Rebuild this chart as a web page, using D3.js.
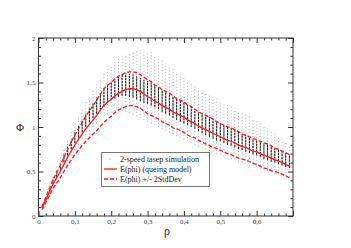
<!DOCTYPE html>
<html>
<head>
<meta charset="utf-8">
<script src="https://cdn.jsdelivr.net/npm/d3@7"></script>
<style>
  body { margin: 0; background: #fff; }
  svg { display: block; font-family: "Liberation Serif", "Times New Roman", serif; }
</style>
</head>
<body>
<div id="chart"></div>
<script>
// density grid (x values of every simulation column and model point)
const rho = [0.01, 0.02, 0.03, 0.04, 0.05, 0.06, 0.07, 0.08, 0.09, 0.10,
    0.11, 0.12, 0.13, 0.14, 0.15, 0.16, 0.17, 0.18, 0.19, 0.20,
    0.21, 0.22, 0.23, 0.24, 0.25, 0.26, 0.27, 0.28, 0.29, 0.30,
    0.31, 0.32, 0.33, 0.34, 0.35, 0.36, 0.37, 0.38, 0.39, 0.40,
    0.41, 0.42, 0.43, 0.44, 0.45, 0.46, 0.47, 0.48, 0.49, 0.50,
    0.51, 0.52, 0.53, 0.54, 0.55, 0.56, 0.57, 0.58, 0.59, 0.60,
    0.61, 0.62, 0.63, 0.64, 0.65, 0.66, 0.67, 0.68, 0.69];

// E(phi), queing model
const meanPhi = [0.09, 0.18, 0.27, 0.36, 0.43, 0.50, 0.58, 0.66, 0.73, 0.80,
    0.86, 0.92, 0.98, 1.03, 1.08, 1.13, 1.19, 1.24, 1.28, 1.31,
    1.35, 1.38, 1.40, 1.42, 1.43, 1.43, 1.42, 1.40, 1.37, 1.34,
    1.32, 1.29, 1.27, 1.24, 1.22, 1.20, 1.17, 1.15, 1.13, 1.11,
    1.08, 1.06, 1.04, 1.01, 0.99, 0.97, 0.95, 0.93, 0.91, 0.89,
    0.87, 0.85, 0.84, 0.82, 0.80, 0.78, 0.77, 0.75, 0.73, 0.72,
    0.70, 0.68, 0.67, 0.65, 0.63, 0.62, 0.60, 0.58, 0.56];

// E(phi) + 2 StdDev
const upperPhi = [0.11, 0.21, 0.31, 0.41, 0.49, 0.57, 0.66, 0.75, 0.83, 0.91,
    0.98, 1.05, 1.12, 1.18, 1.24, 1.30, 1.37, 1.43, 1.47, 1.50,
    1.54, 1.57, 1.59, 1.61, 1.62, 1.62, 1.61, 1.59, 1.56, 1.53,
    1.51, 1.47, 1.45, 1.42, 1.40, 1.38, 1.35, 1.32, 1.30, 1.28,
    1.25, 1.23, 1.20, 1.17, 1.15, 1.13, 1.11, 1.09, 1.06, 1.04,
    1.02, 1.00, 0.99, 0.97, 0.95, 0.92, 0.91, 0.89, 0.87, 0.86,
    0.84, 0.82, 0.81, 0.79, 0.76, 0.75, 0.73, 0.71, 0.69];

// E(phi) - 2 StdDev
const lowerPhi = [0.07, 0.15, 0.23, 0.31, 0.37, 0.43, 0.50, 0.57, 0.63, 0.69,
    0.74, 0.79, 0.84, 0.88, 0.92, 0.96, 1.01, 1.05, 1.09, 1.12,
    1.16, 1.19, 1.21, 1.23, 1.24, 1.24, 1.23, 1.21, 1.18, 1.15,
    1.13, 1.11, 1.09, 1.06, 1.04, 1.02, 0.99, 0.98, 0.96, 0.94,
    0.91, 0.89, 0.88, 0.85, 0.83, 0.81, 0.79, 0.77, 0.76, 0.74,
    0.72, 0.70, 0.69, 0.67, 0.65, 0.64, 0.63, 0.61, 0.59, 0.58,
    0.56, 0.54, 0.53, 0.51, 0.50, 0.49, 0.47, 0.45, 0.43];

// simulation runs per column: lowest, dense band low, dense band high, highest
const simMin = [0.08, 0.16, 0.24, 0.32, 0.40, 0.47, 0.55, 0.62, 0.68, 0.74,
    0.80, 0.86, 0.91, 0.96, 1.00, 1.04, 1.08, 1.12, 1.14, 1.16,
    1.18, 1.18, 1.18, 1.17, 1.16, 1.14, 1.12, 1.10, 1.08, 1.06,
    1.04, 1.02, 1.00, 0.98, 0.96, 0.94, 0.92, 0.90, 0.88, 0.86,
    0.84, 0.82, 0.80, 0.78, 0.76, 0.75, 0.73, 0.72, 0.70, 0.69,
    0.67, 0.66, 0.64, 0.63, 0.61, 0.60, 0.59, 0.57, 0.56, 0.55,
    0.53, 0.52, 0.51, 0.50, 0.48, 0.47, 0.46, 0.45, 0.44];
const simCoreLo = [0.09, 0.18, 0.27, 0.36, 0.44, 0.52, 0.60, 0.68, 0.75, 0.82,
    0.88, 0.94, 1.00, 1.05, 1.10, 1.15, 1.19, 1.23, 1.27, 1.30,
    1.32, 1.34, 1.35, 1.35, 1.34, 1.33, 1.31, 1.29, 1.27, 1.26,
    1.24, 1.22, 1.20, 1.17, 1.15, 1.13, 1.10, 1.08, 1.06, 1.04,
    1.02, 1.00, 0.98, 0.95, 0.93, 0.91, 0.89, 0.87, 0.85, 0.84,
    0.82, 0.80, 0.79, 0.77, 0.75, 0.74, 0.72, 0.71, 0.69, 0.68,
    0.66, 0.64, 0.63, 0.61, 0.60, 0.58, 0.57, 0.55, 0.54];
const simCoreHi = [0.11, 0.21, 0.31, 0.41, 0.51, 0.60, 0.69, 0.78, 0.86, 0.94,
    1.01, 1.08, 1.15, 1.21, 1.27, 1.33, 1.38, 1.43, 1.47, 1.51,
    1.54, 1.57, 1.59, 1.60, 1.60, 1.59, 1.57, 1.55, 1.53, 1.52,
    1.50, 1.47, 1.45, 1.42, 1.40, 1.38, 1.35, 1.32, 1.30, 1.28,
    1.25, 1.23, 1.20, 1.17, 1.15, 1.13, 1.11, 1.09, 1.06, 1.04,
    1.02, 1.00, 0.99, 0.97, 0.95, 0.92, 0.91, 0.89, 0.87, 0.86,
    0.84, 0.82, 0.81, 0.79, 0.76, 0.75, 0.73, 0.71, 0.69];
const simMax = [0.12, 0.23, 0.34, 0.45, 0.56, 0.66, 0.76, 0.86, 0.95, 1.04,
    1.12, 1.20, 1.28, 1.35, 1.42, 1.48, 1.55, 1.60, 1.65, 1.70,
    1.74, 1.78, 1.80, 1.82, 1.84, 1.85, 1.86, 1.86, 1.85, 1.85,
    1.84, 1.80, 1.78, 1.75, 1.72, 1.68, 1.65, 1.62, 1.58, 1.55,
    1.52, 1.49, 1.46, 1.43, 1.40, 1.38, 1.36, 1.34, 1.32, 1.30,
    1.27, 1.25, 1.23, 1.21, 1.18, 1.16, 1.14, 1.12, 1.10, 1.07,
    1.04, 1.01, 0.98, 0.95, 0.92, 0.89, 0.86, 0.83, 0.80];

const xMajor = [0, 0.1, 0.2, 0.3, 0.4, 0.5, 0.6, 0.7];
const xMinor = [0.02, 0.04, 0.06, 0.08, 0.12, 0.14, 0.16, 0.18, 0.22, 0.24, 0.26, 0.28,
    0.32, 0.34, 0.36, 0.38, 0.42, 0.44, 0.46, 0.48, 0.52, 0.54, 0.56, 0.58,
    0.62, 0.64, 0.66, 0.68];
const yMajor = [0, 0.5, 1, 1.5, 2];
const yMinor = [0.1, 0.2, 0.3, 0.4, 0.6, 0.7, 0.8, 0.9, 1.1, 1.2, 1.3, 1.4,
    1.6, 1.7, 1.8, 1.9];
const xTickLabels = ["0", "0,1", "0,2", "0,3", "0,4", "0,5", "0,6", ""];
const yTickLabels = ["0", "0,5", "1", "1,5", "2"];

const legendItems = ["2-speed tasep simulation", "E(phi) (queing model)", "E(phi) +/- 2StdDev"];

var W = 351, H = 248;
var plot = {left: 38.5, right: 293, top: 38, bottom: 216};

var x = d3.scaleLinear().domain([0, 0.7]).range([plot.left, plot.right]);
var y = d3.scaleLinear().domain([0, 2]).range([plot.bottom, plot.top]);

var svg = d3.select("#chart").append("svg")
    .attr("width", W)
    .attr("height", H);

var cols = rho.map((r, i) => ({r: r, lo: simMin[i], cLo: simCoreLo[i], cHi: simCoreHi[i], hi: simMax[i]}));

// simulation scatter: sparse grey spread, then dense dark band
svg.append("g").selectAll("line")
    .data(cols).enter().append("line")
        .attr("x1", d => x(d.r)).attr("x2", d => x(d.r))
        .attr("y1", d => y(d.lo)).attr("y2", d => y(d.hi))
        .attr("stroke", "#a8a8a8")
        .attr("stroke-width", 0.9)
        .attr("stroke-dasharray", "1,2.2");

svg.append("g").selectAll("line")
    .data(cols).enter().append("line")
        .attr("x1", d => x(d.r)).attr("x2", d => x(d.r))
        .attr("y1", d => y(d.cLo)).attr("y2", d => y(d.cHi))
        .attr("stroke", "#111")
        .attr("stroke-width", 1)
        .attr("stroke-dasharray", "2.5,0.6");

// model curves
function curveLine(vals) {
    return d3.line()
        .x((d, i) => x(rho[i]))
        .y(d => y(d))(vals);
}

svg.append("path")
    .attr("d", curveLine(meanPhi))
    .attr("fill", "none")
    .attr("stroke", "#ff1a1a")
    .attr("stroke-width", 1.3);

[upperPhi, lowerPhi].forEach(vals => {
    svg.append("path")
        .attr("d", curveLine(vals))
        .attr("fill", "none")
        .attr("stroke", "#ff1a1a")
        .attr("stroke-width", 1.3)
        .attr("stroke-dasharray", "4,2");
});

// frame
svg.append("rect")
    .attr("x", plot.left).attr("y", plot.top)
    .attr("width", plot.right - plot.left)
    .attr("height", plot.bottom - plot.top)
    .attr("fill", "none")
    .attr("stroke", "#333")
    .attr("stroke-width", 1);

// axes, ticks pointing inwards on all four sides
function styleAxis(g) {
    g.select(".domain").remove();
    g.selectAll("line").attr("stroke", "#333");
    g.selectAll("text").attr("fill", "#444").attr("font-size", 7)
        .attr("font-family", "Liberation Serif, serif");
}

svg.append("g")
    .attr("transform", `translate(0, ${plot.bottom})`)
    .call(d3.axisBottom(x).tickValues(xMajor).tickSize(-5).tickPadding(3)
        .tickFormat((d, i) => xTickLabels[i]))
    .call(styleAxis);
svg.append("g")
    .attr("transform", `translate(0, ${plot.bottom})`)
    .call(d3.axisBottom(x).tickValues(xMinor).tickSize(-2.5).tickFormat(""))
    .call(styleAxis);
svg.append("g")
    .attr("transform", `translate(0, ${plot.top})`)
    .call(d3.axisTop(x).tickValues(xMajor).tickSize(-5).tickFormat(""))
    .call(styleAxis);
svg.append("g")
    .attr("transform", `translate(0, ${plot.top})`)
    .call(d3.axisTop(x).tickValues(xMinor).tickSize(-2.5).tickFormat(""))
    .call(styleAxis);

svg.append("g")
    .attr("transform", `translate(${plot.left}, 0)`)
    .call(d3.axisLeft(y).tickValues(yMajor).tickSize(-5).tickPadding(3)
        .tickFormat((d, i) => yTickLabels[i]))
    .call(styleAxis);
svg.append("g")
    .attr("transform", `translate(${plot.left}, 0)`)
    .call(d3.axisLeft(y).tickValues(yMinor).tickSize(-2.5).tickFormat(""))
    .call(styleAxis);
svg.append("g")
    .attr("transform", `translate(${plot.right}, 0)`)
    .call(d3.axisRight(y).tickValues(yMajor).tickSize(-5).tickFormat(""))
    .call(styleAxis);
svg.append("g")
    .attr("transform", `translate(${plot.right}, 0)`)
    .call(d3.axisRight(y).tickValues(yMinor).tickSize(-2.5).tickFormat(""))
    .call(styleAxis);

// axis titles
svg.append("text")
    .attr("x", 167)
    .attr("y", 235)
    .attr("text-anchor", "middle")
    .attr("font-size", 12)
    .attr("fill", "#222")
    .text("ρ");

svg.append("text")
    .attr("x", 20)
    .attr("y", 131)
    .attr("text-anchor", "middle")
    .attr("font-size", 11)
    .attr("fill", "#222")
    .text("Φ");

// legend
var legend = svg.append("g");
legend.append("rect")
    .attr("x", 101.5).attr("y", 152.5)
    .attr("width", 108).attr("height", 34)
    .attr("fill", "#fff")
    .attr("stroke", "#777")
    .attr("stroke-width", 1);

var legendY = [159, 169, 179];
legend.selectAll("text")
    .data(legendItems).enter().append("text")
        .attr("x", 120)
        .attr("y", (d, i) => legendY[i] + 3)
        .attr("font-size", 8)
        .attr("fill", "#222")
        .text(d => d);

legend.append("rect")
    .attr("x", 109.5).attr("y", legendY[0] - 0.5)
    .attr("width", 1).attr("height", 1)
    .attr("fill", "#888");
legend.append("line")
    .attr("x1", 104).attr("x2", 117)
    .attr("y1", legendY[1]).attr("y2", legendY[1])
    .attr("stroke", "#ff1a1a").attr("stroke-width", 1.3);
legend.append("line")
    .attr("x1", 104).attr("x2", 117)
    .attr("y1", legendY[2]).attr("y2", legendY[2])
    .attr("stroke", "#ff1a1a").attr("stroke-width", 1.3)
    .attr("stroke-dasharray", "4,2");
</script>
</body>
</html>
